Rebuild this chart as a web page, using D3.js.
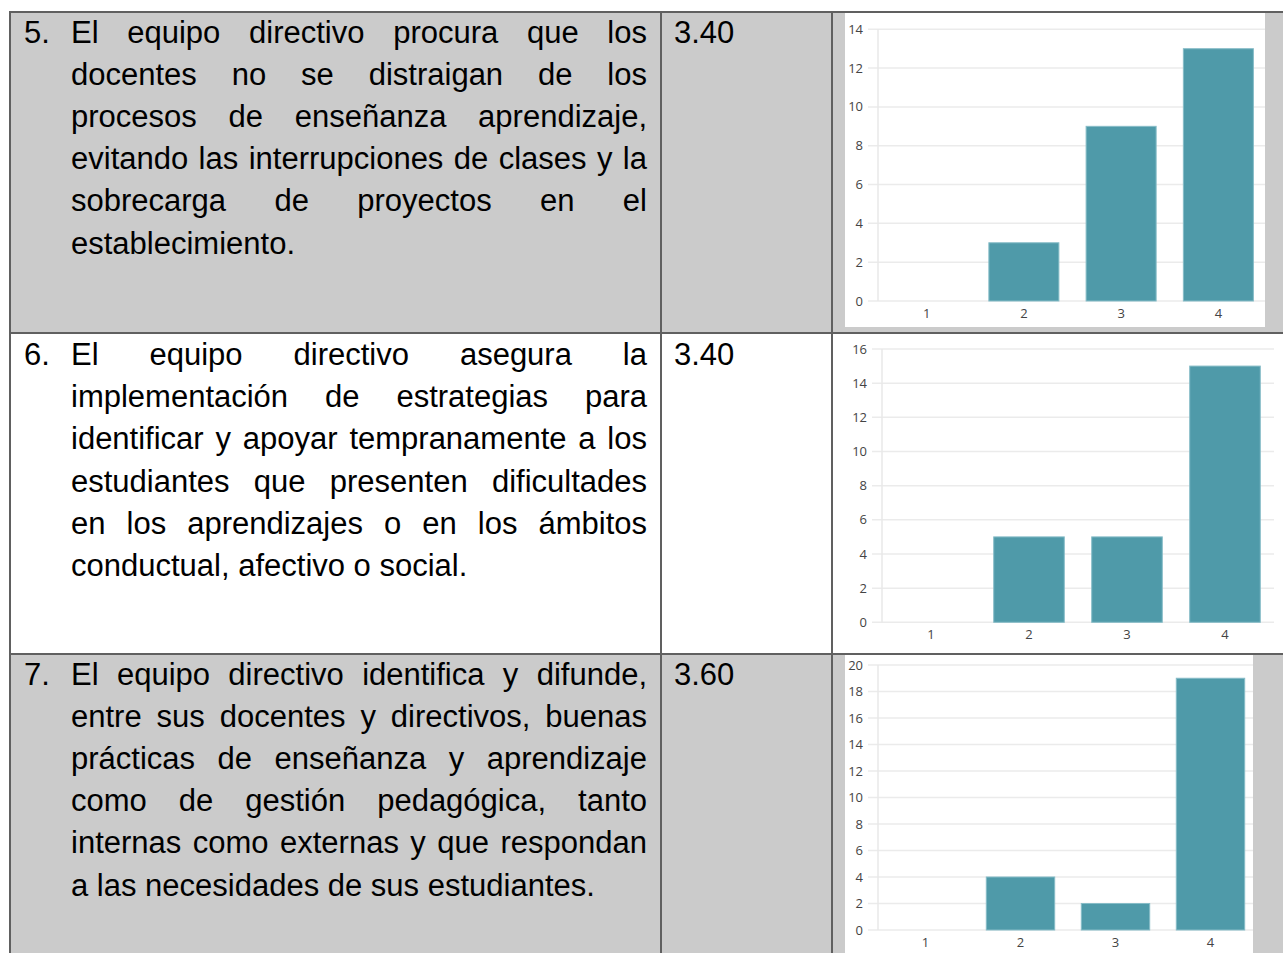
<!DOCTYPE html>
<html>
<head>
<meta charset="utf-8">
<script src="https://cdn.jsdelivr.net/npm/d3@7"></script>
<style>
body { margin: 0; background: #fff; }
#page { position: relative; width: 1283px; height: 953px; overflow: hidden;
        font-family: "Liberation Sans", Arial, sans-serif; }
.ln { position: absolute; font-size: 31px; line-height: 42.2px; color: #000; white-space: nowrap; }
.just { text-align: justify; text-align-last: justify; white-space: normal; }
#charts { position: absolute; left: 0; top: 0; }
</style>
</head>
<body>
<div id="page"></div>
<script>
// table content
var numbers = ["5.", "6.", "7."];
var scores = ["3.40", "3.40", "3.60"];
var text5 = ["El equipo directivo procura que los",
             "docentes no se distraigan de los",
             "procesos de enseñanza aprendizaje,",
             "evitando las interrupciones de clases y la",
             "sobrecarga de proyectos en el",
             "establecimiento."];
var text6 = ["El equipo directivo asegura la",
             "implementación de estrategias para",
             "identificar y apoyar tempranamente a los",
             "estudiantes que presenten dificultades",
             "en los aprendizajes o en los ámbitos",
             "conductual, afectivo o social."];
var text7 = ["El equipo directivo identifica y difunde,",
             "entre sus docentes y directivos, buenas",
             "prácticas de enseñanza y aprendizaje",
             "como de gestión pedagógica, tanto",
             "internas como externas y que respondan",
             "a las necesidades de sus estudiantes."];

// chart data
var categories = ["1", "2", "3", "4"];
var counts5 = [0, 3, 9, 13];
var counts6 = [0, 5, 5, 15];
var counts7 = [0, 4, 2, 19];
var yMax = [14, 16, 20];

var texts = [text5, text6, text7];
var counts = [counts5, counts6, counts7];

var borderColor = "#606060";
var grayFill = "#cbcbcb";
var barColor = "#4f9aa9";

var page = d3.select("#page");

// row backgrounds
var rowBoxes = [ {y: 13, h: 320, fill: grayFill},
                 {y: 334, h: 320, fill: "#ffffff"},
                 {y: 655, h: 300, fill: grayFill} ];
page.selectAll("div.rowbg").data(rowBoxes).enter().append("div")
    .attr("class", "rowbg")
    .style("position", "absolute")
    .style("left", "11px")
    .style("top", function(d){ return d.y + "px"; })
    .style("width", "1272px")
    .style("height", function(d){ return d.h + "px"; })
    .style("background", function(d){ return d.fill; });

// chart panels (white)
var panels = [ {x: 845, y: 13, w: 420, h: 314},
               {x: 845, y: 655, w: 408, h: 300} ];
page.selectAll("div.panel").data(panels).enter().append("div")
    .attr("class", "panel")
    .style("position", "absolute")
    .style("left", function(d){ return d.x + "px"; })
    .style("top", function(d){ return d.y + "px"; })
    .style("width", function(d){ return d.w + "px"; })
    .style("height", function(d){ return d.h + "px"; })
    .style("background", "#fff");

// borders
var hLines = [11, 332, 653];
var vLines = [9, 660, 831];
page.selectAll("div.hl").data(hLines).enter().append("div")
    .attr("class", "hl")
    .style("position", "absolute")
    .style("left", "9px").style("width", "1274px")
    .style("top", function(d){ return d + "px"; })
    .style("height", "2px")
    .style("background", borderColor);
page.selectAll("div.vl").data(vLines).enter().append("div")
    .attr("class", "vl")
    .style("position", "absolute")
    .style("top", "11px").style("height", "942px")
    .style("left", function(d){ return d + "px"; })
    .style("width", "2px")
    .style("background", borderColor);

// text
var textTops = [11.5, 334, 653.5];
var lineH = 42.2;
for (var r = 0; r < 3; r++) {
    page.append("div").attr("class", "ln")
        .style("left", "24px").style("top", textTops[r] + "px")
        .text(numbers[r]);
    page.append("div").attr("class", "ln")
        .style("left", "674px").style("top", textTops[r] + "px")
        .text(scores[r]);
    var lines = texts[r];
    for (var i = 0; i < lines.length; i++) {
        var last = (i == lines.length - 1);
        page.append("div")
            .attr("class", last ? "ln" : "ln just")
            .style("left", "71px")
            .style("width", "576px")
            .style("top", (textTops[r] + i * lineH) + "px")
            .text(lines[i]);
    }
}

// charts
var svg = page.append("svg")
    .attr("id", "charts")
    .attr("width", 1283)
    .attr("height", 953);

var chartBoxes = [ {x0: 878, x1: 1267, zero: 301,   top: 29.3, gridEnd: 1265},
                   {x0: 882, x1: 1274, zero: 622.3, top: 349,  gridEnd: 1274},
                   {x0: 878, x1: 1258, zero: 930,   top: 665,  gridEnd: 1253} ];

function drawChart(box, values, maxV) {
    var g = svg.append("g");
    var x = d3.scaleBand().domain(categories).range([box.x0, box.x1])
        .paddingInner(0.28).paddingOuter(0.14);
    var y = d3.scaleLinear().domain([0, maxV]).range([box.zero, box.top]);
    var ticks = d3.range(0, maxV + 1, 2);

    g.selectAll("line.grid").data(ticks).enter().append("line")
        .attr("x1", box.x0 - 10)
        .attr("x2", box.gridEnd)
        .attr("y1", function(d){ return y(d); })
        .attr("y2", function(d){ return y(d); })
        .attr("stroke", "#ebebeb")
        .attr("stroke-width", 1.5);

    g.append("line")
        .attr("x1", box.x0).attr("x2", box.x0)
        .attr("y1", y(maxV)).attr("y2", box.zero)
        .attr("stroke", "#e8e8e8")
        .attr("stroke-width", 1.5);

    g.selectAll("text.yl").data(ticks).enter().append("text")
        .attr("x", box.x0 - 15)
        .attr("y", function(d){ return y(d); })
        .attr("dy", "0.35em")
        .attr("text-anchor", "end")
        .attr("font-family", "'Open Sans', 'Noto Sans', sans-serif")
        .attr("font-size", "13px")
        .attr("fill", "#444")
        .text(function(d){ return d; });

    g.selectAll("rect.bar").data(values).enter().append("rect")
        .attr("x", function(d, i){ return x(categories[i]); })
        .attr("width", x.bandwidth())
        .attr("y", function(d){ return y(d); })
        .attr("height", function(d){ return box.zero - y(d); })
        .attr("fill", barColor)
        .attr("stroke", "#86bcc7")
        .attr("stroke-width", function(d){ return d > 0 ? 1 : 0; });

    g.selectAll("text.xl").data(categories).enter().append("text")
        .attr("x", function(d){ return x(d) + x.bandwidth() / 2; })
        .attr("y", box.zero + 12.5)
        .attr("dy", "0.35em")
        .attr("text-anchor", "middle")
        .attr("font-family", "'Open Sans', 'Noto Sans', sans-serif")
        .attr("font-size", "13px")
        .attr("fill", "#444")
        .text(function(d){ return d; });
}

for (var c = 0; c < 3; c++) {
    drawChart(chartBoxes[c], counts[c], yMax[c]);
}
</script>
</body>
</html>
